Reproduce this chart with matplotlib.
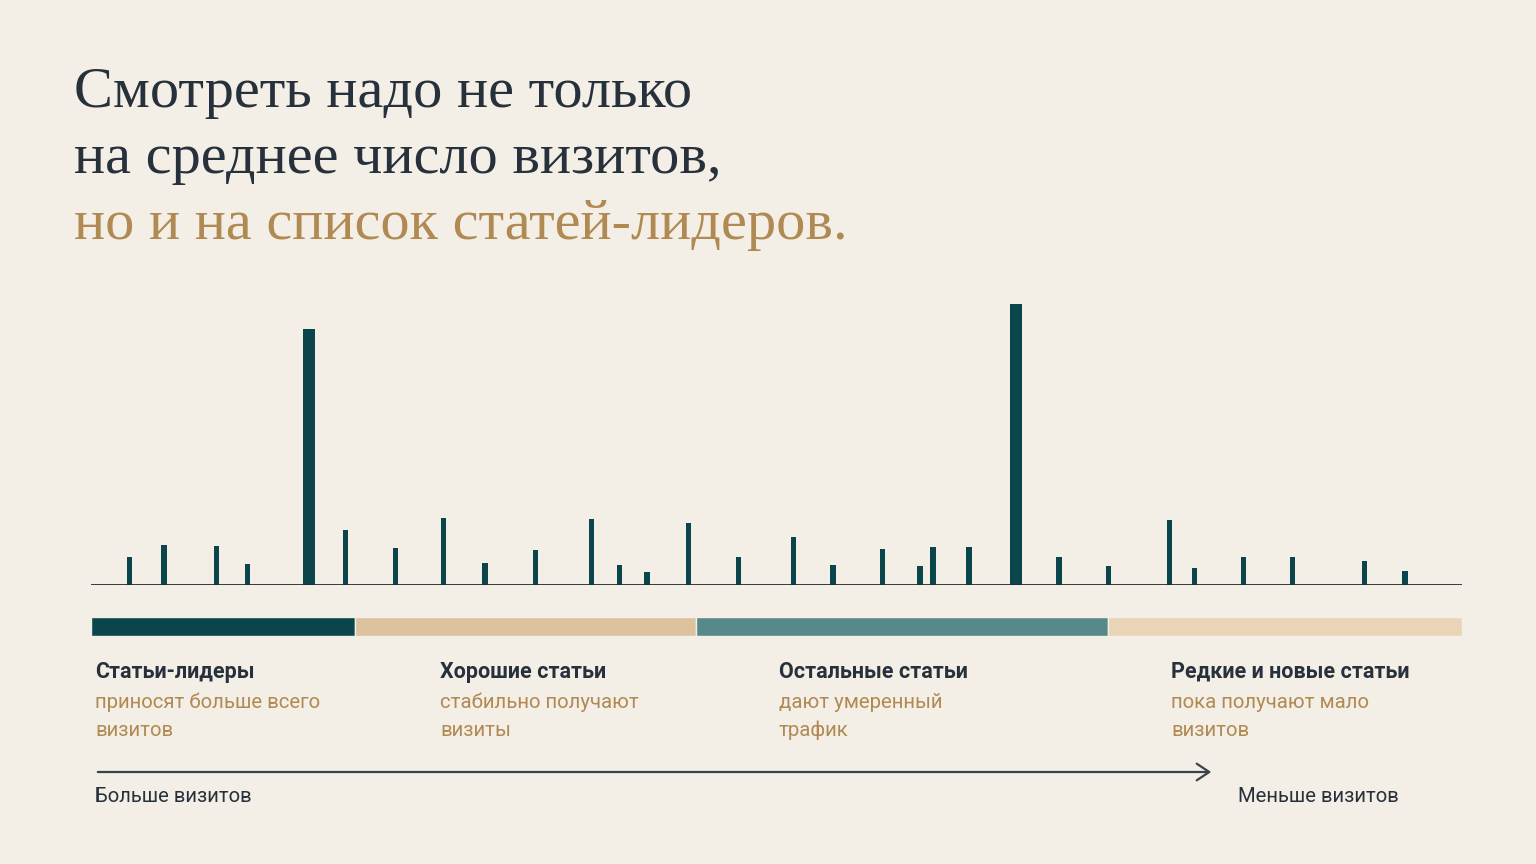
import matplotlib
matplotlib.use('Agg')
import matplotlib.pyplot as plt
import numpy as np
from matplotlib.patches import FancyArrowPatch

# article positions along the ranking (0..100) and visits (relative units)
positions = [2.82, 5.32, 9.17, 11.43, 15.88, 18.58, 22.22, 25.70, 28.74, 32.41,
             36.52, 38.56, 40.55, 43.57, 47.21, 51.23, 54.12, 57.72, 60.47, 61.42,
             64.04, 67.47, 70.61, 74.20, 78.65, 80.50, 84.08, 87.65, 92.87, 95.84]
visits = [28, 40, 39, 21, 256, 55, 37, 67, 22, 35,
          66, 20, 13, 62, 28, 48, 20, 36, 19, 38,
          38, 281, 28, 19, 65, 17, 28, 28, 24, 14]

# groups: where each segment ends on the ranking scale
group_edges = [0, 19.26, 44.13, 74.18, 100]
group_titles = ['Статьи-лидеры', 'Хорошие статьи', 'Остальные статьи', 'Редкие и новые статьи']
group_notes = [['приносят больше всего', 'визитов'],
               ['стабильно получают', 'визиты'],
               ['дают умеренный', 'трафик'],
               ['пока получают мало', 'визитов']]

title_lines = ['Смотреть надо не только', 'на среднее число визитов,', 'но и на список статей-лидеров.']

BG = '#f4efe6'
DARK = '#0b454c'
INK = '#27313b'
GOLD = '#b08a52'
seg_colors = ['#0b454c', '#dcc29d', '#56898a', '#e9d4b7']

W, H = 1536, 864
fig = plt.figure(figsize=(W / 100, H / 100), dpi=100, facecolor=BG)


def fx(px):
    return px / W


def fy(py):
    return 1 - py / H


# title
serif = ['Liberation Serif', 'DejaVu Serif']
for i, line in enumerate(title_lines):
    fig.text(fx(74), fy(93 + i * 66), line, family=serif, fontsize=42,
             color=GOLD if i == 2 else INK, va='center', ha='left')

# bars
ax = fig.add_axes([fx(91), fy(585), fx(1462) - fx(91), 300 / H])
ax.set_facecolor('none')
vals = np.array(visits)
widths = np.where(vals > 150, 0.88, 0.38)
ax.bar(positions, vals, width=widths, color=DARK, zorder=2)
ax.axhline(0, color='#1e2a33', lw=2, zorder=3)
ax.set_xlim(0, 100)
ax.set_ylim(0, 300)
ax.axis('off')

# group band
bx = fig.add_axes([fx(91), fy(636), fx(1462) - fx(91), 19 / H])
bx.set_facecolor('none')
starts = group_edges[:-1]
lens = np.diff(group_edges)
bx.barh(0, lens, left=starts, height=1, color=seg_colors, edgecolor=BG, linewidth=1)
bx.set_xlim(0, 100)
bx.set_ylim(-0.5, 0.5)
bx.axis('off')

# group labels
sans = ['Roboto', 'DejaVu Sans']
label_x = [95, 440, 779, 1171]
for x, t, notes in zip(label_x, group_titles, group_notes):
    fig.text(fx(x), fy(672), t, family=sans, fontsize=15.5, fontweight='semibold',
             color=INK, va='center', ha='left')
    for j, n in enumerate(notes):
        fig.text(fx(x), fy(702 + j * 28), n, family=sans, fontsize=14.7,
                 color=GOLD, va='center', ha='left')

# direction arrow
arrow = FancyArrowPatch((fx(95), fy(772)), (fx(1214), fy(772)),
                        transform=fig.transFigure, arrowstyle='->,head_length=6,head_width=4',
                        color='#39424d', lw=1.6, mutation_scale=1.5)
fig.patches.append(arrow)
fig.text(fx(95), fy(796), 'Больше визитов', family=sans, fontsize=14.6,
         color=INK, va='center', ha='left')
fig.text(fx(1399), fy(796), 'Меньше визитов', family=sans, fontsize=14.6,
         color=INK, va='center', ha='right')

fig.savefig('out.png', dpi=100, facecolor=BG)
